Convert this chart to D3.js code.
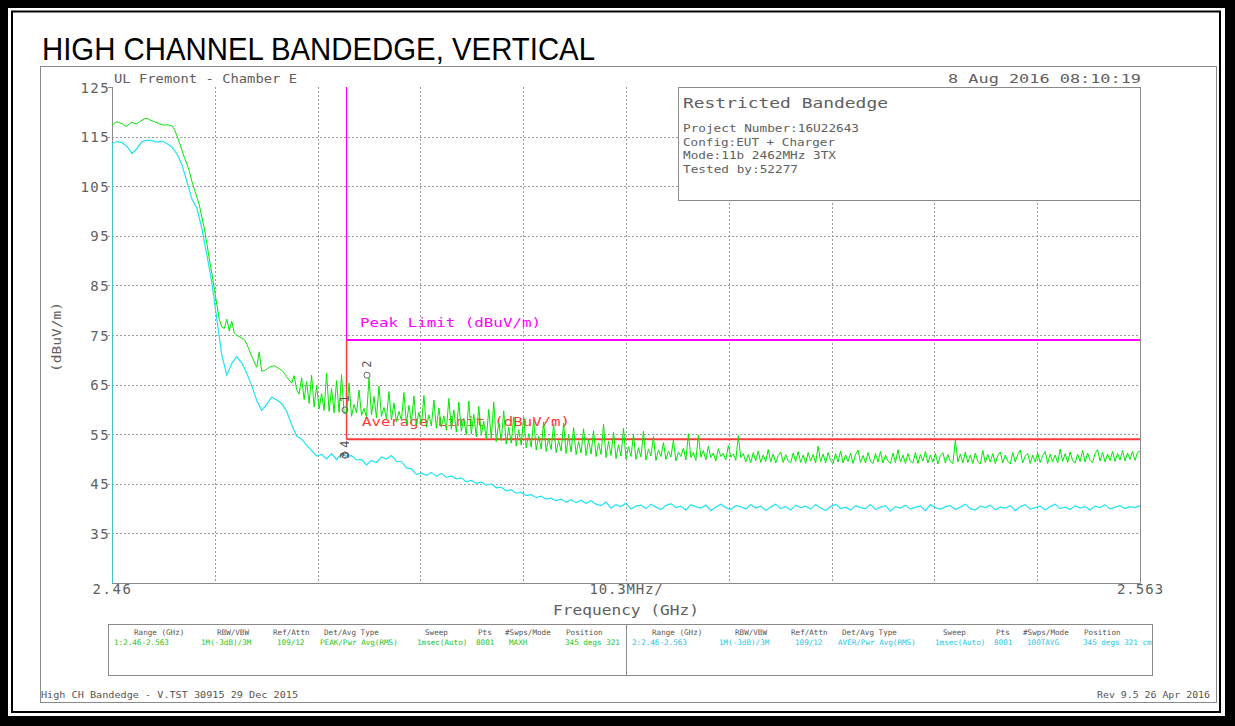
<!DOCTYPE html>
<html><head><meta charset="utf-8">
<script src="https://cdn.jsdelivr.net/npm/d3@7"></script>
<style>
body{margin:0;background:#fff}
svg{display:block}
.mono{font-family:"DejaVu Sans Mono",monospace}
</style>
</head><body>
<svg id="c" width="1235" height="726"></svg>
<script>
// ---------- data ----------
const freqStart = 2.46, freqStop = 2.563;          // GHz sweep span
const refTop = 125, refBottom = 25;                // dBuV/m
const yTicks = [35,45,55,65,75,85,95,105,115,125];
const xTickValues = [2.46, 2.5115, 2.563];
const xTickLabels = ["2.46", "10.3MHz/", "2.563"];
const gridFreqs = [2.4703,2.4806,2.4909,2.5012,2.5115,2.5218,2.5321,2.5424,2.5527];
const peakLimit = 74, avgLimit = 54, bandEdge = 2.4835;

// Trace 1: PEAK / MAXH (green) on an even frequency grid
const peakTrace = [
117.3,117.7,118.0,117.8,117.6,117.2,117.1,117.6,117.9,117.7,
117.6,118.0,118.3,118.6,118.7,118.4,118.2,118.0,117.8,117.6,
117.4,117.3,117.4,117.3,117.2,116.5,115.2,113.8,112.3,110.8,
109.5,108.0,106.0,104.4,102.8,101.2,98.8,96.5,93.5,90.3,
87.5,84.3,81.2,78.2,
76.6,76.3,78.2,75.8,77.8,75.4,74.9,74.7,74.4,74.1,
73.2,72.0,70.7,69.6,68.5,71.6,67.7,67.8,68.1,68.5,
68.7,68.8,68.5,68.2,67.9,67.3,66.6,65.9,65.3,66.8,
64.0,63.1,66.4,62.0,65.6,61.2,66.9,60.5,64.8,60.1,
63.2,59.8,67.3,59.6,64.2,59.3,65.8,59.4,67.0,59.2,
59.2,65.3,58.6,61.0,59.3,63.9,58.8,60.2,58.5,66.3,
58.9,62.6,58.3,64.7,58.6,60.4,58.1,63.6,57.9,61.3,
57.5,59.6,57.8,63.4,57.1,60.8,57.3,62.7,56.8,59.4,
56.9,62.8,56.4,58.9,56.7,61.9,56.2,60.3,56.4,58.7,
55.8,62.2,56.0,59.9,55.4,61.5,55.6,58.2,54.9,61.7,
55.1,59.0,54.5,60.6,54.8,57.6,54.0,60.0,54.2,61.5,
53.5,57.3,53.7,59.7,53.0,56.4,53.2,58.5,52.6,55.9,
52.8,58.4,52.2,55.1,52.4,57.9,51.8,54.6,52.0,57.5,
51.5,54.2,51.9,57.1,51.3,53.7,51.6,57.2,51.1,54.8,
51.4,56.3,50.9,53.5,51.2,56.1,50.7,53.9,51.0,55.7,
50.5,53.2,50.9,57.0,50.3,53.6,50.7,55.4,50.1,52.9,
50.6,56.2,50.0,52.5,50.5,55.0,49.9,52.3,50.4,55.6,
49.8,52.0,50.6,54.5,49.7,51.8,50.5,53.3,49.9,51.6,
50.4,53.8,49.6,51.4,50.5,52.2,49.8,55.1,50.3,51.3,
49.7,54.8,50.4,51.7,49.8,52.6,50.3,51.2,49.6,52.1,
50.5,51.1,49.8,52.7,50.4,51.0,49.7,54.7,50.3,
51.1,49.4,50.9,49.2,51.3,49.6,51.6,49.3,50.8,49.5,
51.9,49.4,51.0,49.2,50.7,51.4,49.3,50.9,49.6,49.2,
51.2,49.5,51.5,49.3,50.8,49.1,51.3,49.6,50.9,49.2,
52.6,49.4,51.0,49.2,51.3,49.7,49.1,51.1,49.4,51.6,
49.2,50.8,49.5,51.2,49.1,50.9,51.8,49.3,50.7,49.2,
51.3,49.5,49.1,51.1,49.4,51.5,49.2,50.8,49.6,49.1,
51.2,49.3,51.9,49.4,50.8,49.1,51.1,49.5,49.2,51.3,
49.1,50.9,49.6,51.5,49.2,50.8,49.4,51.1,49.0,50.7,
51.3,49.2,50.9,49.5,49.1,53.8,49.4,51.0,49.2,51.4,
49.3,50.8,49.1,51.2,49.5,49.0,51.7,49.3,50.9,49.4,
51.1,49.1,50.7,51.4,49.2,50.8,49.5,49.0,51.3,49.4,
50.9,51.8,49.2,50.6,51.1,49.1,50.8,49.4,51.2,49.3,
50.7,51.5,49.1,51.0,49.4,50.8,49.2,52.0,49.5,51.1,
49.3,51.4,49.7,49.2,51.0,49.5,51.7,49.4,51.2,49.7,
49.3,51.1,51.9,49.6,51.3,49.4,51.0,49.7,51.5,49.5,
51.1,49.8,51.7,49.6,51.2,49.9,51.5,49.7,51.3,51.6
];

// Trace 2: AVER / 100TAVG (cyan); the sweep starts below the display bottom
const avgSweepStart = 20.0;
const avgTrace = [
113.6,114.0,113.8,113.0,111.6,112.6,114.0,114.3,114.2,113.9,
114.1,113.6,112.9,111.5,109.4,106.0,102.4,100.6,96.5,91.2,
85.6,78.3,71.0,66.9,69.3,70.6,69.4,67.3,64.8,61.8,
59.8,61.0,62.5,61.9,61.2,59.6,56.9,54.6,
54.0,52.8,51.7,50.6,50.9,50.0,51.1,49.9,51.0,50.6,
50.7,49.8,49.9,48.8,49.7,49.3,50.4,50.0,50.7,49.5,
49.5,48.2,48.0,46.9,47.2,46.7,47.3,46.5,47.1,46.3,
46.6,46.0,46.2,45.4,45.7,45.1,45.4,44.7,45.0,44.2,
44.3,43.6,43.8,43.1,43.3,42.6,42.8,42.2,42.5,41.9,
42.1,41.6,41.9,41.3,41.8,41.2,41.7,41.0,41.6,40.9,
40.6,41.3,40.1,40.8,40.4,41.1,39.9,40.5,40.7,40.0,
40.9,40.3,39.8,40.6,41.0,40.2,40.5,39.7,40.8,40.4,
40.1,40.7,39.6,40.3,40.9,40.2,39.8,40.6,40.4,39.9,
40.8,40.1,40.5,39.6,40.3,40.9,40.0,40.4,39.7,40.7,
40.2,40.5,39.9,40.8,40.1,39.6,40.4,40.9,40.0,40.3,
39.7,40.6,40.2,40.0,40.8,39.8,40.3,40.6,39.5,40.4,
40.1,40.7,39.9,40.3,40.5,39.6,40.8,40.2,39.9,40.4,
40.6,39.8,40.3,40.9,40.0,39.7,40.5,40.2,40.7,39.8,
40.3,40.1,40.6,39.6,40.4,40.8,39.9,40.2,40.5,39.7,
40.4,40.9,40.0,40.3,39.8,40.6,40.1,40.4,39.7,40.5,
40.2,40.8,39.9,40.3,40.6,40.0,40.4,40.2,40.6
];

const markers = [
  {label:"2", f:2.48555, v:66.9},
  {label:"1", f:2.48334, v:59.9},
  {label:"4", f:2.48334, v:50.8},
  {label:"3", f:2.48334, v:50.8}
];

const infoTitle = "Restricted Bandedge";
const infoLines = ["Project Number:16U22643","Config:EUT + Charger","Mode:11b 2462MHz 3TX","Tested by:52277"];
const tableHeaders = ["Range (GHz)","RBW/VBW","Ref/Attn","Det/Avg Type","Sweep","Pts","#Swps/Mode","Position"];
const trace1Settings = ["1:2.46-2.563","1M(-3dB)/3M","109/12","PEAK/Pwr Avg(RMS)","1msec(Auto)","8001","MAXH","345 degs 321"];
const trace2Settings = ["2:2.46-2.563","1M(-3dB)/3M","109/12","AVER/Pwr Avg(RMS)","1msec(Auto)","8001","100TAVG","345 degs 321 cm"];

// ---------- drawing ----------
const svg = d3.select("#c");
const GREEN = "#00e800", CYAN = "#1fe4f4", MAG = "#ff00ff", RED = "#ff3838", TXT = "#606060", FRAME = "#8a8a8a";

// outer black frame
svg.append("rect").attr("x",0).attr("y",0).attr("width",1235).attr("height",726).attr("fill","#000");
svg.append("rect").attr("x",8).attr("y",8).attr("width",1217).attr("height",708).attr("fill","#fff");
svg.append("rect").attr("x",12).attr("y",11.5).attr("width",1208).attr("height",700.5)
  .attr("fill","none").attr("stroke","#000").attr("stroke-width",2);

// title
svg.append("text").attr("x",42).attr("y",60).attr("font-family","'Liberation Sans',Arial,sans-serif")
  .attr("font-size",31).attr("textLength",553).attr("lengthAdjust","spacingAndGlyphs").attr("fill","#000")
  .text("HIGH CHANNEL BANDEDGE, VERTICAL");

// instrument frame
svg.append("rect").attr("x",40.5).attr("y",66.5).attr("width",1176).attr("height",636)
  .attr("fill","none").attr("stroke",FRAME).attr("stroke-width",1);

const x = d3.scaleLinear().domain([freqStart,freqStop]).range([112,1140]);
const y = d3.scaleLinear().domain([refBottom,refTop]).range([583,87]);

function mtext(g, str, px, py, size, len, color, anchor){
  const t = g.append("text").attr("class","mono").attr("x",px).attr("y",py)
    .attr("font-size",size).attr("fill",color||TXT).attr("text-anchor",anchor||"start").text(str);
  if(len) t.attr("textLength",len).attr("lengthAdjust","spacingAndGlyphs");
  return t;
}

// header texts
mtext(svg,"UL Fremont - Chamber E",114,82.5,12.5,183);
mtext(svg,"8 Aug 2016   08:10:19",1141,82.5,12.5,193,TXT,"end");

// grid
const grid = svg.append("g");
grid.selectAll("line.h").data(yTicks.filter(d=>d<refTop)).join("line")
  .attr("x1",108).attr("x2",1140).attr("y1",d=>Math.round(y(d))+0.5).attr("y2",d=>Math.round(y(d))+0.5)
  .attr("stroke","#9a9a9a").attr("stroke-width",1).attr("stroke-dasharray","2,2");
grid.selectAll("line.v").data(gridFreqs).join("line")
  .attr("x1",d=>Math.round(x(d))+0.5).attr("x2",d=>Math.round(x(d))+0.5).attr("y1",87).attr("y2",583)
  .attr("stroke","#9a9a9a").attr("stroke-width",1).attr("stroke-dasharray","2,2");
grid.append("line").attr("x1",108).attr("x2",112).attr("y1",87.5).attr("y2",87.5).attr("stroke",FRAME);

// axes lines
svg.append("line").attr("x1",112.5).attr("x2",112.5).attr("y1",87).attr("y2",583.5).attr("stroke",FRAME);
svg.append("line").attr("x1",112).attr("x2",1140.5).attr("y1",583.5).attr("y2",583.5).attr("stroke",FRAME);
svg.append("line").attr("x1",1140.5).attr("x2",1140.5).attr("y1",87).attr("y2",583.5).attr("stroke",FRAME);

// y axis labels via d3 axis
const yAxis = svg.append("g").attr("transform","translate(110,0)")
  .call(d3.axisLeft(y).tickValues(yTicks).tickSize(0).tickPadding(0).tickFormat(d3.format("d")));
yAxis.select(".domain").remove();
yAxis.selectAll("text").attr("class","mono").attr("font-size",14).attr("fill",TXT)
  .attr("font-family","'DejaVu Sans Mono',monospace").attr("letter-spacing",1.4).attr("dy","0.36em").attr("x",0);

// x axis labels via d3 axis
const xAxis = svg.append("g").attr("transform","translate(0,583)")
  .call(d3.axisBottom(x).tickValues(xTickValues).tickSize(0).tickPadding(0).tickFormat((d,i)=>xTickLabels[i]));
xAxis.select(".domain").remove();
xAxis.selectAll("text").attr("font-size",14).attr("fill",TXT).attr("font-family","'DejaVu Sans Mono',monospace")
  .attr("y",11).attr("dy","0").attr("letter-spacing",(d,i)=>[1.6,0.8,1.0][i]);

mtext(svg,"Frequency (GHz)",626,615,14.5,146,TXT,"middle");
svg.append("text").attr("class","mono").attr("transform","translate(61,337) rotate(-90)")
  .attr("text-anchor","middle").attr("font-size",12).attr("fill",TXT)
  .attr("textLength",70).attr("lengthAdjust","spacingAndGlyphs").text("(dBuV/m)");

// info box
svg.append("rect").attr("x",678.5).attr("y",87.5).attr("width",462).attr("height",113)
  .attr("fill","#fff").attr("stroke",FRAME);
mtext(svg,infoTitle,683,108,14,205);
infoLines.forEach((s,i)=>mtext(svg,s,683,132+i*13.7,11,[176,152,153,115][i]));

// limit lines
const lim = svg.append("g");
lim.append("line").attr("x1",x(bandEdge)).attr("x2",x(bandEdge)).attr("y1",y(peakLimit)).attr("y2",y(avgLimit))
  .attr("stroke",RED).attr("stroke-width",1.5);
lim.append("line").attr("x1",x(bandEdge)).attr("x2",x(freqStop)).attr("y1",y(avgLimit)).attr("y2",y(avgLimit))
  .attr("stroke",RED).attr("stroke-width",2);
lim.append("line").attr("x1",x(bandEdge)).attr("x2",x(bandEdge)).attr("y1",y(refTop)).attr("y2",y(peakLimit))
  .attr("stroke",MAG).attr("stroke-width",1.2);
lim.append("line").attr("x1",x(bandEdge)).attr("x2",x(freqStop)).attr("y1",y(peakLimit)).attr("y2",y(peakLimit))
  .attr("stroke",MAG).attr("stroke-width",2);
mtext(svg,"Peak Limit (dBuV/m)",360,327,12.5,181,MAG);
mtext(svg,"Average Limit (dBuV/m)",362,425.5,12.5,208,RED);

// traces
svg.append("clipPath").attr("id","plotclip").append("rect").attr("x",112).attr("y",87).attr("width",1029).attr("height",496);
const line = d3.line().x(d=>x(d[0])).y(d=>y(d[1]));
const toPts = arr => arr.map((v,i)=>[freqStart + i*(freqStop-freqStart)/(arr.length-1), v]);
const traces = svg.append("g").attr("clip-path","url(#plotclip)");
traces.append("path").attr("d",line(toPts(peakTrace))).attr("fill","none").attr("stroke",GREEN).attr("stroke-width",1);
traces.append("path").attr("d",line([[freqStart,avgSweepStart]].concat(toPts(avgTrace))))
  .attr("fill","none").attr("stroke",CYAN).attr("stroke-width",1.2);

// markers
const mk = svg.append("g");
markers.forEach(m=>{
  const cx = x(m.f), cy = y(m.v);
  mk.append("circle").attr("cx",cx).attr("cy",cy).attr("r",3).attr("fill","none").attr("stroke","#666").attr("stroke-width",1);
  const off = m.label==="3" ? 0 : -11;
  mk.append("text").attr("class","mono").attr("font-size",12).attr("fill","#555").attr("text-anchor","middle")
    .attr("transform",`translate(${cx+4},${cy+off}) rotate(-90)`).text(m.label);
});

// settings table
const tb = svg.append("g");
tb.append("rect").attr("x",108.5).attr("y",624.5).attr("width",1044).attr("height",51).attr("fill","none").attr("stroke",FRAME);
tb.append("line").attr("x1",626.5).attr("x2",626.5).attr("y1",624.5).attr("y2",675.5).attr("stroke",FRAME);
const hdrOff = [26,109,165,216,317,370,397,458];
const valOff = [6,93,169,212,309,368,401,457];
[[108,trace1Settings,"#22c822"],[626,trace2Settings,"#22c8e8"]].forEach(([x0,vals,col])=>{
  tableHeaders.forEach((h,i)=>mtext(tb,h,x0+hdrOff[i],635,7.6,null,"#555"));
  vals.forEach((v,i)=>mtext(tb,v,x0+valOff[i],644.5,7.6,null,col));
});

// footer
mtext(svg,"High CH Bandedge - V.TST 30915 29 Dec 2015",41,697.5,9,257,"#555");
mtext(svg,"Rev 9.5 26 Apr 2016",1210,697.5,9,113,"#555","end");
</script>
</body></html>
